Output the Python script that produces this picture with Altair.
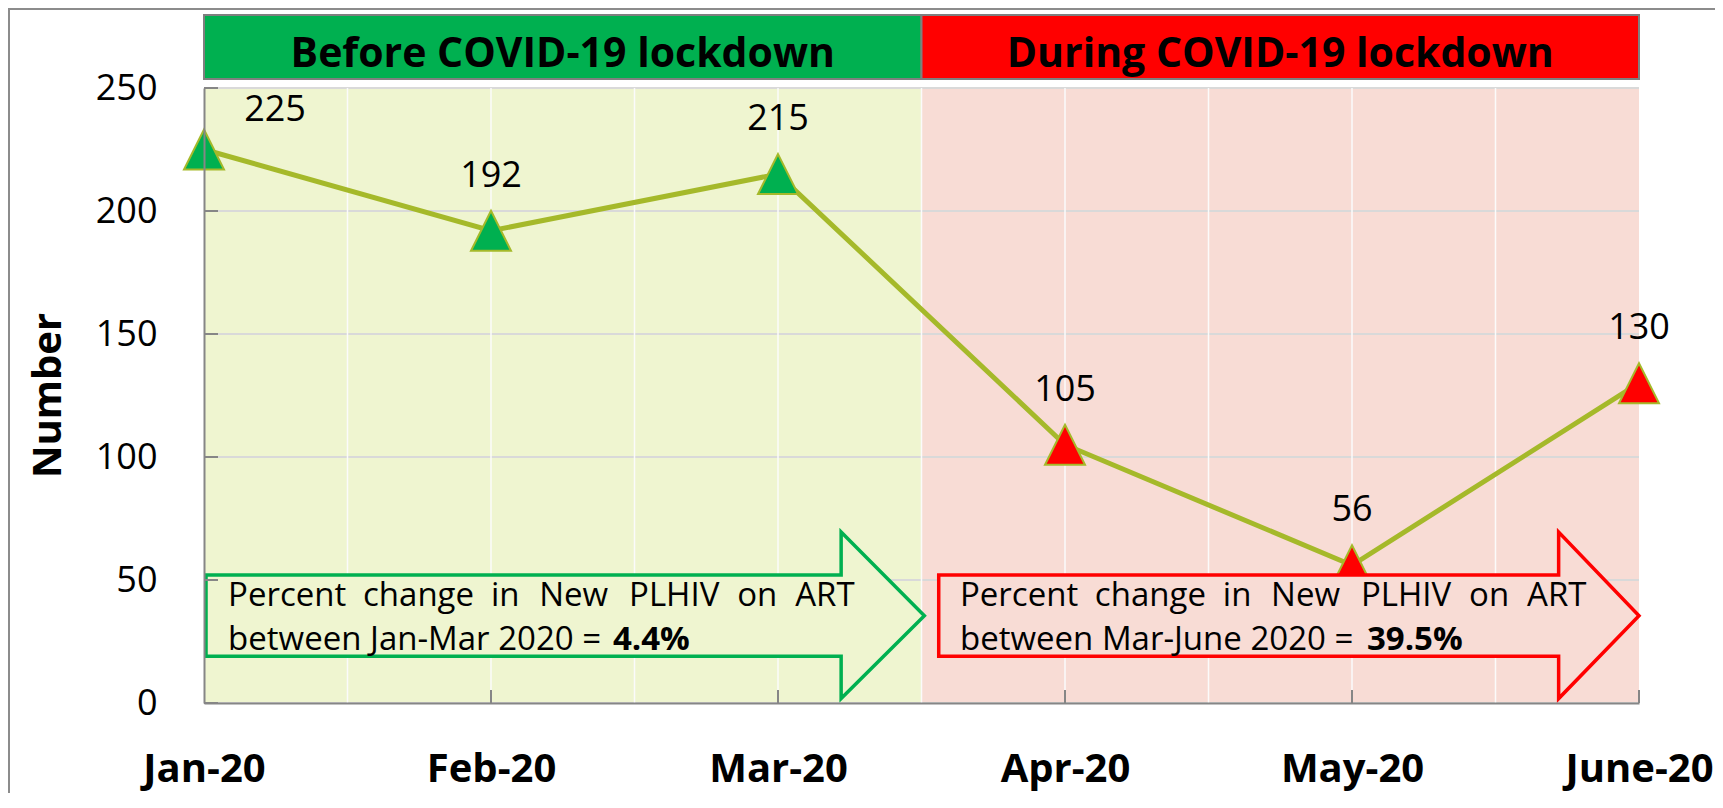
import json
import altair as alt
import pandas as pd

# ---------------- data ----------------
months = ["Jan-20", "Feb-20", "Mar-20", "Apr-20", "May-20", "June-20"]
values = [225, 192, 215, 105, 56, 130]
phase = ["Before", "Before", "Before", "During", "During", "During"]

phase_keys = ["Before", "During"]
phase_names = ["Before COVID-19 lockdown", "During COVID-19 lockdown"]
phase_start = [0, 2.5]
phase_end = [2.5, 5]
phase_bg = ["#eff5d0", "#f8dcd5"]
header_fill = ["#00b050", "#ff0000"]
arrow_stroke = ["#00b050", "#ff0000"]

y_ticks = [0, 50, 100, 150, 200, 250]
x_grid = [0.5, 1, 1.5, 2, 2.5, 3, 3.5, 4, 4.5]
x_ticks = [1, 2, 3, 4, 5]

# arrow annotation geometry (data units)
arrow_left = [0.007, 2.56]
arrow_head = [2.22, 4.72]
arrow_tip = [2.51, 5.0]
body_low, body_high = 19, 52
head_low, head_high = 1.8, 69.5
tip_y = 35.5

line1_words = ["Percent", "change", "in", "New", "PLHIV", "on", "ART"]
word_offsets = [0, 0.470, 0.916, 1.084, 1.397, 1.774, 1.976]  # justified spacing (x units)
line2 = ["between Jan-Mar 2020 = ", "between Mar-June 2020 = "]
bold_part = ["4.4%", "39.5%"]
text_x = [0.084, 2.634]
bold_x = [1.425, 4.052]
line1_y, line2_y = 39.4, 21.5

header_y0, header_y1, header_text_y = 253.7, 279.7, 258.5

LINE_COLOR = "#a5b92a"
AXIS_COLOR = "#868686"
FONT = "Open Sans"

# ---------------- tables ----------------
df = pd.DataFrame({"idx": list(range(len(months))), "month": months,
                   "value": values, "phase": phase})
bg_df = pd.DataFrame({"x0": phase_start, "x1": phase_end,
                      "y0": [y_ticks[0]] * 2, "y1": [y_ticks[-1]] * 2,
                      "fill": phase_bg})
hdr_df = pd.DataFrame({"x0": phase_start, "x1": phase_end,
                       "xm": [(a + b) / 2 for a, b in zip(phase_start, phase_end)],
                       "y0": [header_y0] * 2, "y1": [header_y1] * 2,
                       "ty": [header_text_y] * 2,
                       "name": phase_names, "fill": header_fill})
ytick_df = pd.DataFrame({"t": y_ticks})
xgrid_df = pd.DataFrame({"g": x_grid})
xtick_df = pd.DataFrame({"t": x_ticks})

xs = alt.Scale(domain=[0, 5], nice=False, zero=False)
ys = alt.Scale(domain=[0, 250], nice=False)

xaxis = alt.Axis(values=list(range(len(months))),
                 labelExpr=f"{json.dumps(months)}[datum.value]",
                 title=None, grid=False, ticks=False, tickSize=0, labelPadding=78,
                 labelBaseline="alphabetic", labelFont=FONT, labelFontSize=40,
                 labelFontWeight="bold", labelColor="black", labelFlush=False,
                 labelOverlap=False,
                 domainColor=AXIS_COLOR, domainWidth=2, zindex=1)
yaxis = alt.Axis(values=y_ticks, title="Number", grid=False, ticks=False, tickSize=0,
                 labelPadding=47, labelFont=FONT, labelFontSize=36,
                 labelColor="black", labelFlush=False, labelOverlap=False,
                 domainColor=AXIS_COLOR, domainWidth=2,
                 titleFont=FONT, titleFontSize=40, titleFontWeight="bold",
                 titleColor="black", titleX=-156, titleY=307, titleAngle=270,
                 titleAlign="center", titleBaseline="middle", zindex=1)


def X(field):
    return alt.X(field, scale=xs, axis=xaxis)


def Y(field):
    return alt.Y(field, scale=ys, axis=yaxis)


# backgrounds
bg = alt.Chart(bg_df).mark_rect().encode(
    x=X("x0:Q"), x2="x1", y=Y("y0:Q"), y2="y1",
    fill=alt.Fill("fill:N", scale=None))

hgrid = alt.Chart(ytick_df).mark_rule(color="#d9d9d9", strokeWidth=2).encode(
    y=Y("t:Q"))
vgrid = alt.Chart(xgrid_df).mark_rule(color="#fbfbfb", strokeWidth=1.5).encode(
    x=X("g:Q"))

line = alt.Chart(df).mark_line(color=LINE_COLOR, strokeWidth=5).encode(
    x=X("idx:Q"), y=Y("value:Q"))

points = alt.Chart(df).mark_point(
    shape="M0,-1L1,1L-1,1Z", size=1600, filled=True, opacity=1,
    stroke=LINE_COLOR, strokeWidth=2).encode(
    x=X("idx:Q"), y=Y("value:Q"),
    fill=alt.Fill("phase:N", scale=alt.Scale(domain=phase_keys, range=header_fill),
                  legend=None))

# arrows
arrow_layers = []
for i in range(2):
    a_df = pd.DataFrame({
        "x": [arrow_left[i], arrow_head[i], arrow_head[i] + 1e-6, arrow_tip[i]],
        "lo": [body_low, body_low, head_low, tip_y],
        "hi": [body_high, body_high, head_high, tip_y]})
    arrow_layers.append(
        alt.Chart(a_df).mark_area(fill=phase_bg[i], stroke=arrow_stroke[i],
                                  strokeWidth=3.5, opacity=1, fillOpacity=1,
                                  strokeJoin="miter").encode(
            x=X("x:Q"), y=Y("hi:Q"), y2="lo"))

w_rows = {"x": [], "y": [], "t": []}
for i in range(2):
    for w, off in zip(line1_words, word_offsets):
        w_rows["x"].append(text_x[i] + off)
        w_rows["y"].append(line1_y)
        w_rows["t"].append(w)
    w_rows["x"].append(text_x[i])
    w_rows["y"].append(line2_y)
    w_rows["t"].append(line2[i])
txt_df = pd.DataFrame(w_rows)
arrow_text = alt.Chart(txt_df).mark_text(
    align="left", baseline="alphabetic", font=FONT, fontSize=33,
    color="black").encode(x=X("x:Q"), y=Y("y:Q"), text="t:N")
bold_df = pd.DataFrame({"x": bold_x, "y": [line2_y] * 2, "t": bold_part})
arrow_bold = alt.Chart(bold_df).mark_text(
    align="left", baseline="alphabetic", font=FONT, fontSize=33,
    fontWeight="bold", color="black").encode(
    x=X("x:Q"), y=Y("y:Q"), text="t:N")

# data labels
lab_first = alt.Chart(df).transform_filter("datum.idx == 0").mark_text(
    font=FONT, fontSize=36, dx=71, dy=-40, baseline="middle",
    color="black").encode(x=X("idx:Q"), y=Y("value:Q"), text="value:Q")
lab_rest = alt.Chart(df).transform_filter("datum.idx > 0").mark_text(
    font=FONT, fontSize=36, dy=-55, baseline="middle",
    color="black").encode(x=X("idx:Q"), y=Y("value:Q"), text="value:Q")

# header bands
hdr = alt.Chart(hdr_df).mark_rect(stroke="#7f7f7f", strokeWidth=2).encode(
    x=X("x0:Q"), x2="x1", y=Y("y0:Q"), y2="y1",
    fill=alt.Fill("fill:N", scale=None))
hdr_text = alt.Chart(hdr_df).mark_text(
    font=FONT, fontSize=41, fontWeight="bold", baseline="alphabetic",
    align="center", color="black").encode(
    x=X("xm:Q"), y=Y("ty:Q"), text="name:N")

# inward ticks
yticks = alt.Chart(ytick_df).mark_rule(color=AXIS_COLOR, strokeWidth=2).encode(
    y=Y("t:Q"), x=alt.value(0), x2=alt.value(14))
xticks = alt.Chart(xtick_df).mark_rule(color=AXIS_COLOR, strokeWidth=2).encode(
    x=X("t:Q"), y=alt.value(602), y2=alt.value(615))

# outer frame
dummy = pd.DataFrame({"a": [0]})
frame_left = alt.Chart(dummy).mark_rule(color="#8c8c8c", strokeWidth=2).encode(
    x=alt.value(-195), y=alt.value(-80), y2=alt.value(720))
frame_top = alt.Chart(dummy).mark_rule(color="#8c8c8c", strokeWidth=2).encode(
    x=alt.value(-195), x2=alt.value(1520), y=alt.value(-79))

chart = alt.layer(
    bg, hgrid, vgrid, line, points, *arrow_layers, arrow_text, arrow_bold,
    lab_first, lab_rest, hdr, hdr_text, yticks, xticks, frame_left, frame_top
).properties(
    width=1435, height=615,
    autosize=alt.AutoSizeParams(type="none"),
    padding={"left": 196, "top": 80, "right": 76, "bottom": 90},
    background="white"
).configure_view(stroke=None)

chart.save("out.html", embed_options={"renderer": "svg", "actions": False})
